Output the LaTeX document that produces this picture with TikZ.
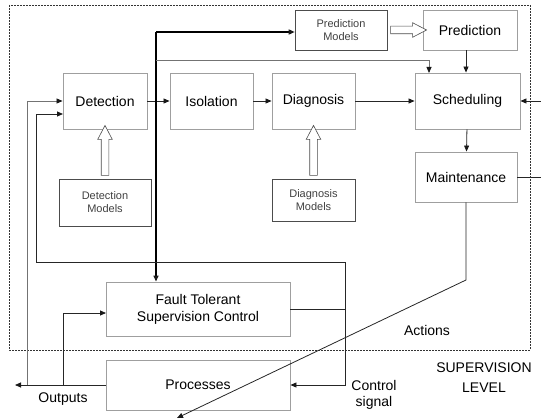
\documentclass[tikz,border=0pt]{standalone}
\usepackage{fontspec}
\setmainfont{Liberation Sans}
\usetikzlibrary{positioning, shapes.arrows, arrows.meta}

\tikzstyle{block} = [rectangle, minimum width=84pt, minimum height=56pt, text centered, draw=gray!75, line width=0.9pt, inner sep=1pt, font=\fontsize{14}{17}\selectfont]
\tikzstyle{model} = [rectangle, minimum height=44pt, text centered, align=center, draw=black!70, line width=0.6pt, text=black!75, font=\fontsize{11}{13}\selectfont]
\tikzstyle{arrow} = [line width=0.8pt, draw=black!85, ->, >={Triangle[length=6pt,width=5pt,color=black!90]}]
\tikzstyle{wire} = [line width=0.8pt, draw=black!85]
\tikzstyle{main} = [line width=1.4pt, draw=black]
\tikzstyle{hollow} = [single arrow, draw=black!70, line width=0.6pt, fill=white, single arrow head extend=3.5pt, single arrow tip angle=55, inner xsep=0pt, inner ysep=3.5pt, sloped]
\tikzstyle{lbl} = [align=center, font=\fontsize{14}{17}\selectfont]

\begin{document}
\begin{tikzpicture}[x=1pt, y=-1pt]
\useasboundingbox (0,0) rectangle (541,420);
\draw [dash pattern=on 2pt off 1pt, black!80] (9,5) rectangle (530,350);

% boxes
\node (det) [block] at (105,101) {Detection};
\node (iso) [block, minimum width=83pt] at (211.5,101) {Isolation};
\node (diag) [block, minimum width=83pt] at (313.5,101) {Diagnosis};
\node (sched) [block, minimum width=105pt] at (467.5,101) {Scheduling};
\node (pm) [model, minimum width=92pt, minimum height=40pt] at (341,30) {Prediction\\Models};
\node (pred) [block, minimum width=94pt, minimum height=40pt] at (470,30) {Prediction};
\node (maint) [block, minimum width=102pt, minimum height=50pt] at (466,177) {Maintenance};
\node (dm) [model, minimum width=92pt, minimum height=47pt] at (105,202.5) {Detection\\Models};
\node (dgm) [model, minimum width=83pt, minimum height=42pt] at (313.5,200) {Diagnosis\\Models};
\node (ftsc) [block, minimum width=184pt, minimum height=54pt, align=center] at (198,309) {Fault Tolerant\\Supervision Control};
\node (proc) [block, minimum width=184pt, minimum height=50pt] at (198,385) {Processes};

% model arrows
\path (dm.north) -- node[hollow, minimum height=50pt] {} (det.south);
\path (dgm.north) -- node[hollow, minimum height=50pt] {} (diag.south);
\path (pm.east) -- node[hollow, minimum height=36pt] {} (pred.west);

% chain
\draw [arrow] (det) -- (iso);
\draw [arrow] (iso) -- (diag);
\draw [arrow] (diag) -- (sched);
\draw [arrow] (pred.south -| maint.north) -- (sched.north -| maint.north);
\draw [arrow] (sched) -- (maint);

% detection output branch
\coordinate (top) at (156,32);
\coordinate (br) at (156,60);
\coordinate (sin) at (429,73);
\draw [arrow, main] (top) -- (top -| pm.west);
\draw [arrow, main] (top) -- (top |- ftsc.north);
\draw [arrow, draw=black!55] (br) -| (sin);

% feedback to detection / processes
\coordinate (cs) at (345,262);
\coordinate (lin) at (36,114);
\coordinate (din) at (63,114);
\draw [arrow] (cs) -| (lin) -- (din);
\draw [arrow] (cs) |- (proc.east);
\draw [wire] (ftsc.east) -- (ftsc.east -| cs);

% outputs
\coordinate (outl) at (15,385);
\coordinate (lo) at (27,385);
\coordinate (lf) at (63,385);
\coordinate (fin) at (106,313);
\draw [arrow] (proc.west) -- (outl);
\draw [arrow, draw=black!55] (lo) |- (det.west);
\draw [arrow] (lf) |- (fin);

% right side
\coordinate (rs) at (541,101);
\coordinate (rm) at (541,177);
\draw [arrow] (rs) -- (sched.east);
\draw [wire] (maint.east) -- (rm);

% actions
\coordinate (mk) at (466,280);
\coordinate (act) at (177,418);
\draw [arrow] (maint.south) -- (mk) -- (act);

% labels
\node (actions) [lbl] at (427,330) {Actions};
\node (suplvl) [lbl, font=\fontsize{14}{20}\selectfont] at (484,378) {SUPERVISION\\LEVEL};
\node (ctrl) [lbl, font=\fontsize{14}{16}\selectfont] at (374,395) {Control\\signal};
\node (outs) [lbl] at (63,399) {Outputs};
\end{tikzpicture}
\end{document}
